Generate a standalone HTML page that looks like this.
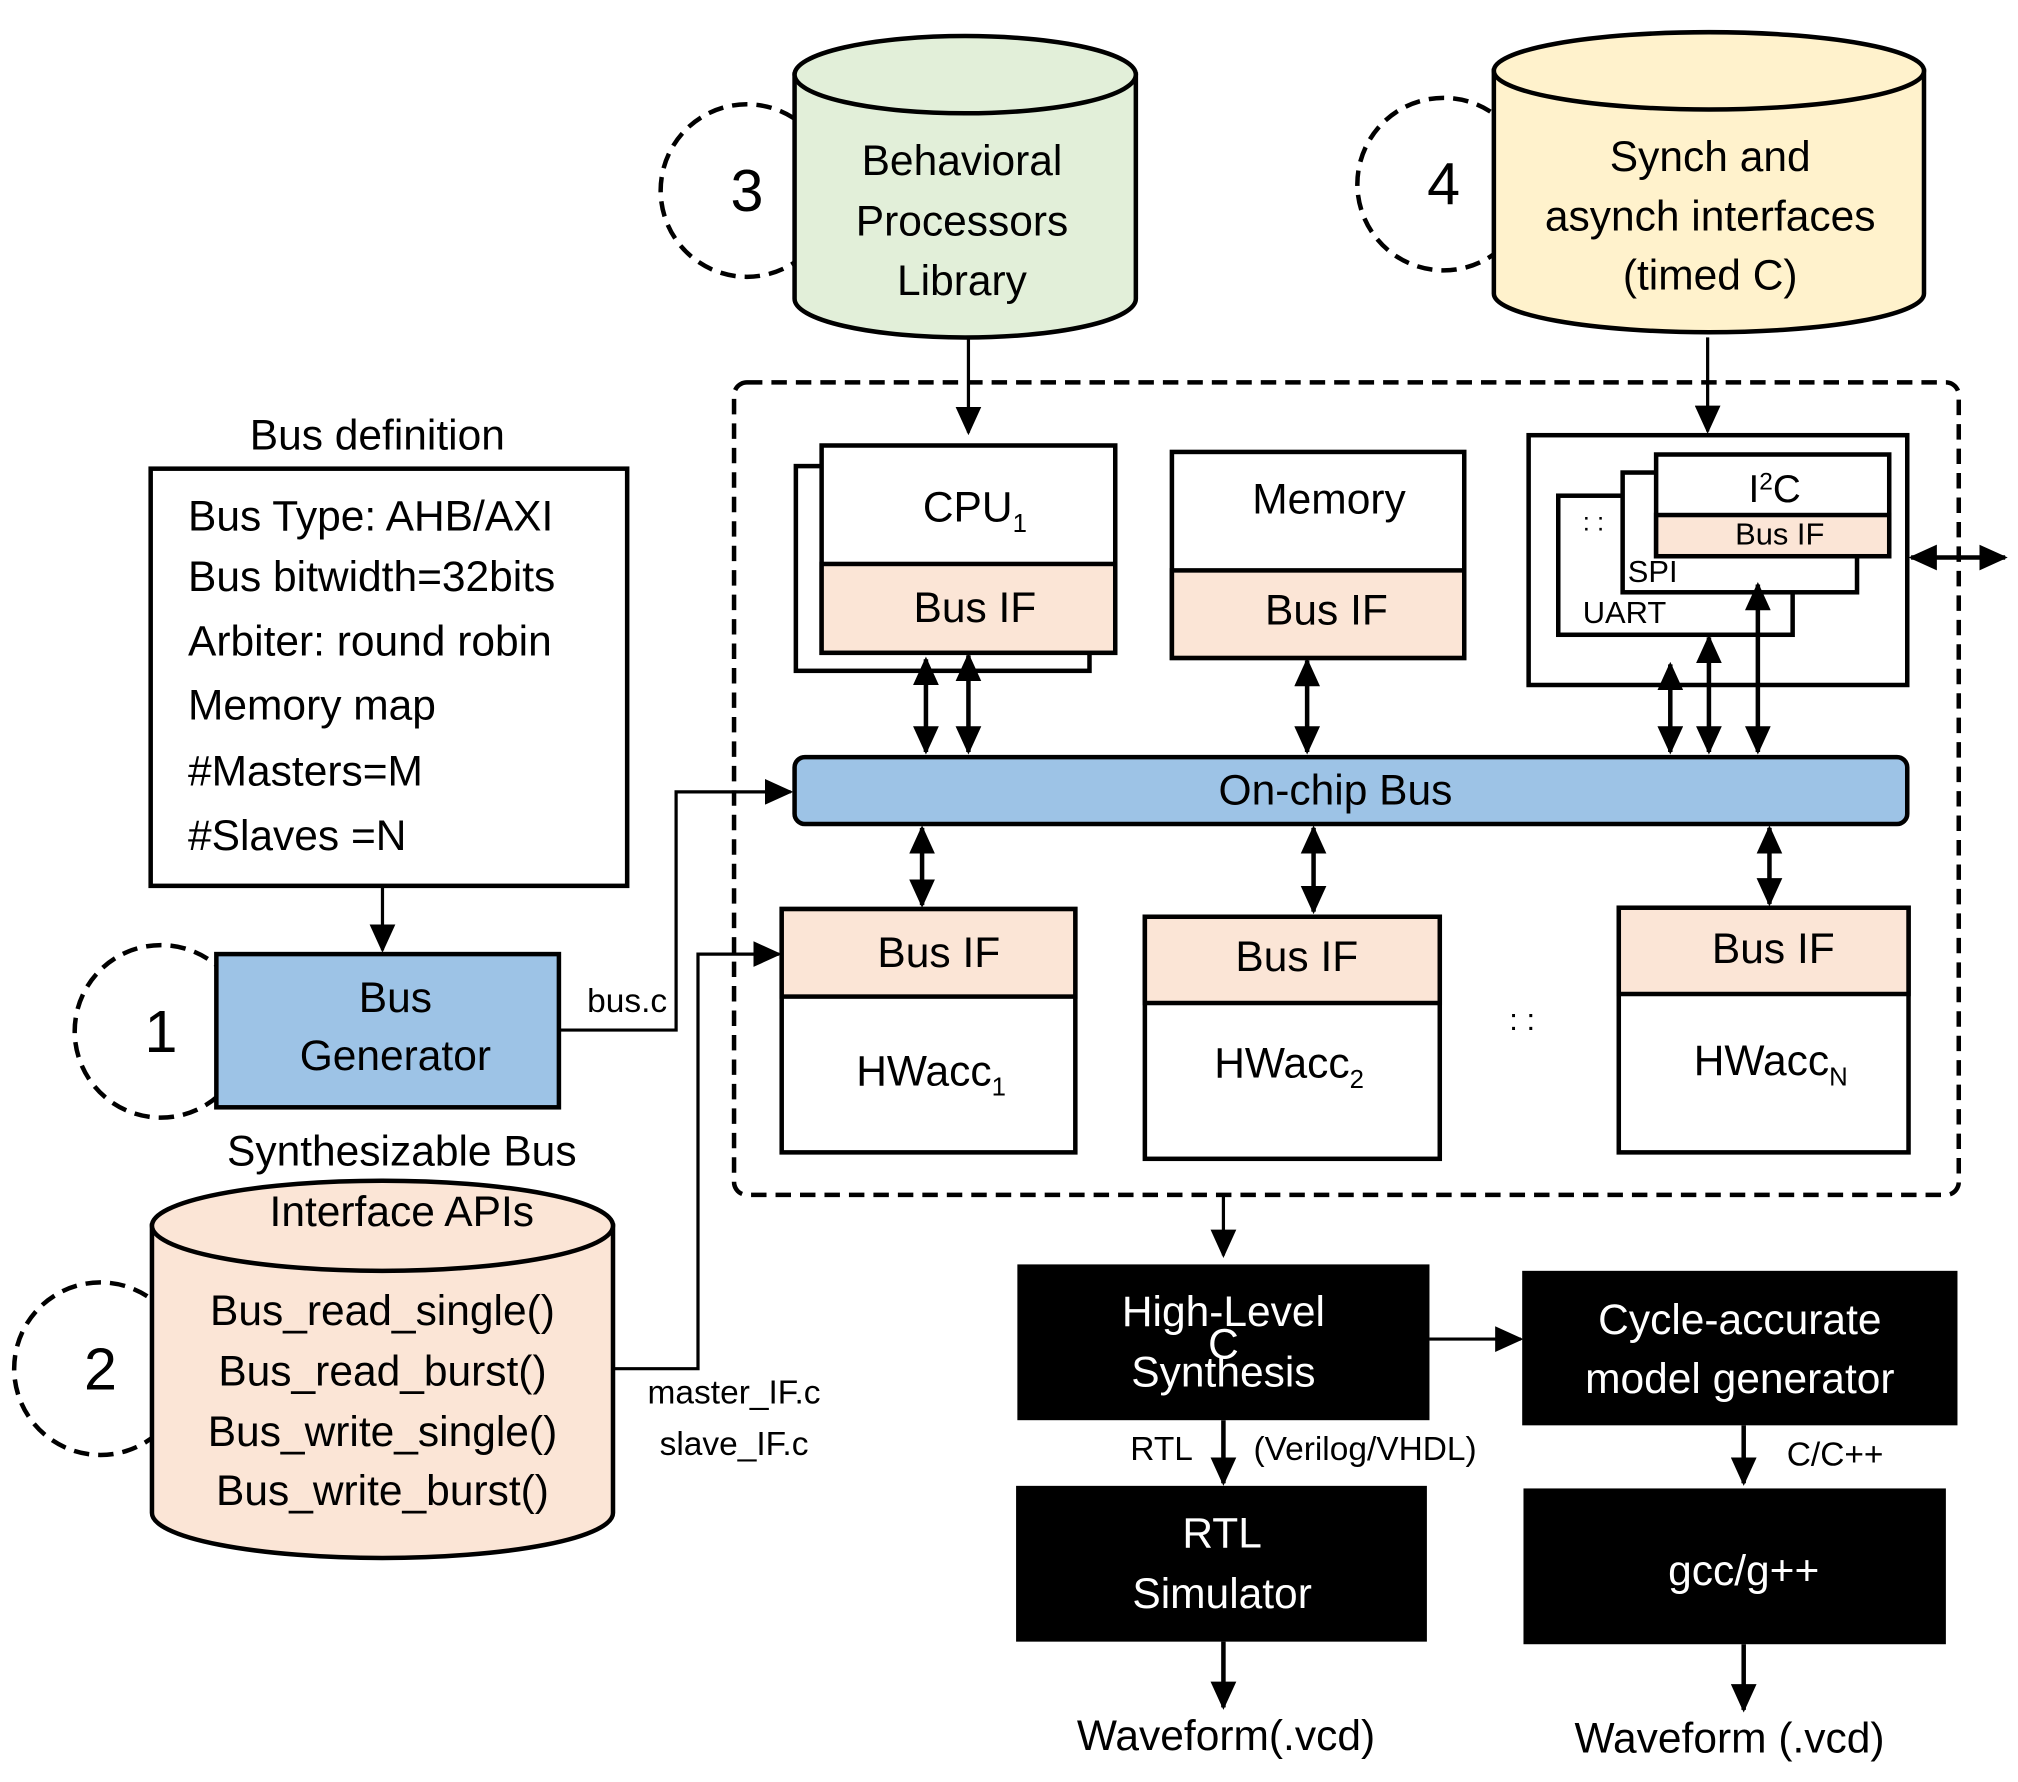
<!DOCTYPE html>
<html><head><meta charset="utf-8"><style>
html,body{margin:0;padding:0;background:#fff}
svg{display:block}
text{font-family:"Liberation Sans",sans-serif;font-size:33px;fill:#000}
.c{text-anchor:middle}
.w{fill:#fff}
.s{font-size:26px}
</style></head><body>
<svg width="2018" height="1782" viewBox="0 0 1567 1384" preserveAspectRatio="none" xmlns="http://www.w3.org/2000/svg">
<defs>
<marker id="a" markerUnits="userSpaceOnUse" markerWidth="22" markerHeight="20" refX="20" refY="10" orient="auto-start-reverse"><path d="M0,0 L22,10 L0,20 Z" fill="#000"/></marker>
</defs>
<g fill="none" stroke="#000" stroke-width="3.5">
<circle cx="580" cy="148" r="67" stroke-dasharray="12,7"/>
<circle cx="1121" cy="143" r="67" stroke-dasharray="12,7"/>
<circle cx="78" cy="1063" r="67" stroke-dasharray="12,7"/>
<circle cx="125" cy="801" r="67" stroke-dasharray="12,7"/>
</g>
<g stroke="#000" stroke-width="3.5">
<path d="M617,58 L617,232 A132,30 0 0 0 882,232 L882,58 Z" fill="#e2efd9"/>
<ellipse cx="749.5" cy="58" rx="132.5" ry="30" fill="#e2efd9"/>
<path d="M1160,55 L1160,228 A167,30 0 0 0 1494,228 L1494,55 Z" fill="#fff2cc"/>
<ellipse cx="1327" cy="55" rx="167" ry="30" fill="#fff2cc"/>
<path d="M118,952 L118,1175 A179,35 0 0 0 476,1175 L476,952 Z" fill="#fbe5d6"/>
<ellipse cx="297" cy="952" rx="179" ry="35" fill="#fbe5d6"/>
</g>
<text class="c" x="747" y="136">Behavioral</text>
<text class="c" x="747" y="183">Processors</text>
<text class="c" x="747" y="229">Library</text>
<text class="c" x="1328" y="133">Synch and</text>
<text class="c" x="1328" y="179">asynch interfaces</text>
<text class="c" x="1328" y="225">(timed C)</text>
<text class="c" x="580" y="164" style="font-size:46px">3</text>
<text class="c" x="1121" y="159" style="font-size:46px">4</text>
<text class="c" x="78" y="1079" style="font-size:46px">2</text>
<text class="c" x="125" y="817" style="font-size:46px">1</text>
<text class="c" x="312" y="905">Synthesizable Bus</text>
<text class="c" x="312" y="952">Interface APIs</text>
<text class="c" x="297" y="1029">Bus_read_single()</text>
<text class="c" x="297" y="1076">Bus_read_burst()</text>
<text class="c" x="297" y="1123">Bus_write_single()</text>
<text class="c" x="297" y="1169">Bus_write_burst()</text>

<text class="c" x="293" y="349">Bus definition</text>
<rect x="117" y="364" width="370" height="324" fill="#fff" stroke="#000" stroke-width="3.5"/>
<text x="146" y="412">Bus Type: AHB/AXI</text>
<text x="146" y="459">Bus bitwidth=32bits</text>
<text x="146" y="509">Arbiter: round robin</text>
<text x="146" y="559">Memory map</text>
<text x="146" y="610">#Masters=M</text>
<text x="146" y="660">#Slaves =N</text>
<rect x="168" y="741" width="266" height="119" fill="#9dc3e6" stroke="#000" stroke-width="3.5"/>
<text class="c" x="307" y="786">Bus</text>
<text class="c" x="307" y="831">Generator</text>
<text class="c s" x="487" y="786">bus.c</text>
<text class="c s" x="570" y="1090">master_IF.c</text>
<text class="c s" x="570" y="1130">slave_IF.c</text>

<g fill="none" stroke="#000" stroke-width="2.5">
<line x1="297" y1="688" x2="297" y2="738" marker-end="url(#a)"/>
<polyline points="434,800 525,800 525,615 614,615" marker-end="url(#a)"/>
<polyline points="476,1063 542,1063 542,741 605,741" marker-end="url(#a)"/>
<line x1="752" y1="262" x2="752" y2="336" marker-end="url(#a)"/>
<line x1="1326" y1="262" x2="1326" y2="335" marker-end="url(#a)"/>
</g>

<rect x="570" y="297" width="951" height="631" rx="10" fill="none" stroke="#000" stroke-width="3.5" stroke-dasharray="12,7"/>

<g stroke="#000" stroke-width="3.5">
<rect x="618" y="362" width="228" height="159" fill="#fff"/>
<rect x="638" y="346" width="228" height="161" fill="#fff"/>
<rect x="638" y="438" width="228" height="69" fill="#fbe5d6"/>
<rect x="910" y="351" width="227" height="160" fill="#fff"/>
<rect x="910" y="443" width="227" height="68" fill="#fbe5d6"/>
<rect x="1187" y="338" width="294" height="194" fill="#fff"/>
<rect x="1210" y="385" width="182" height="108" fill="#fff"/>
<rect x="1260" y="367" width="182" height="93" fill="#fff"/>
<rect x="1286" y="353" width="181" height="79" fill="#fff"/>
<rect x="1286" y="400" width="181" height="32" fill="#fbe5d6"/>
<rect x="617" y="588" width="864" height="52" rx="8" fill="#9dc3e6"/>
<rect x="607" y="706" width="228" height="189" fill="#fff"/>
<rect x="607" y="706" width="228" height="68" fill="#fbe5d6"/>
<rect x="889" y="712" width="229" height="188" fill="#fff"/>
<rect x="889" y="712" width="229" height="67" fill="#fbe5d6"/>
<rect x="1257" y="705" width="225" height="190" fill="#fff"/>
<rect x="1257" y="705" width="225" height="67" fill="#fbe5d6"/>
</g>
<text class="c" x="757" y="405">CPU<tspan style="font-size:20px" dy="8">1</tspan></text>
<text class="c" x="757" y="483">Bus IF</text>
<text class="c" x="1032" y="399">Memory</text>
<text class="c" x="1030" y="485">Bus IF</text>
<text class="c" x="1378" y="390" style="font-size:30px">I<tspan style="font-size:19px" dy="-10">2</tspan><tspan dy="10">C</tspan></text>
<text class="c" x="1382" y="423" style="font-size:24px">Bus IF</text>
<text x="1264" y="452" style="font-size:24px">SPI</text>
<text x="1229" y="484" style="font-size:24px">UART</text>
<text x="1229" y="412" style="font-size:20px">: :</text>
<text class="c" x="1037" y="625">On-chip Bus</text>
<text class="c" x="729" y="751">Bus IF</text>
<text class="c" x="723" y="843">HWacc<tspan style="font-size:20px" dy="8">1</tspan></text>
<text class="c" x="1007" y="754">Bus IF</text>
<text class="c" x="1001" y="837">HWacc<tspan style="font-size:20px" dy="8">2</tspan></text>
<text class="c" x="1377" y="748">Bus IF</text>
<text class="c" x="1375" y="835">HWacc<tspan style="font-size:20px" dy="8">N</tspan></text>
<text class="c" x="1182" y="800" style="font-size:24px">:  :</text>

<g fill="none" stroke="#000" stroke-width="3.5">
<line x1="719" y1="512" x2="719" y2="584" marker-start="url(#a)" marker-end="url(#a)"/>
<line x1="752" y1="509" x2="752" y2="584" marker-start="url(#a)" marker-end="url(#a)"/>
<line x1="1015" y1="513" x2="1015" y2="584" marker-start="url(#a)" marker-end="url(#a)"/>
<line x1="1297" y1="516" x2="1297" y2="584" marker-start="url(#a)" marker-end="url(#a)"/>
<line x1="1327" y1="495" x2="1327" y2="584" marker-start="url(#a)" marker-end="url(#a)"/>
<line x1="1365" y1="454" x2="1365" y2="584" marker-start="url(#a)" marker-end="url(#a)"/>
<line x1="716" y1="643" x2="716" y2="703" marker-start="url(#a)" marker-end="url(#a)"/>
<line x1="1020" y1="643" x2="1020" y2="708" marker-start="url(#a)" marker-end="url(#a)"/>
<line x1="1374" y1="643" x2="1374" y2="702" marker-start="url(#a)" marker-end="url(#a)"/>
<line x1="1484" y1="433" x2="1557" y2="433" marker-start="url(#a)" marker-end="url(#a)"/>
<line x1="950" y1="928" x2="950" y2="975" stroke-width="2.5" marker-end="url(#a)"/>
<line x1="1110" y1="1040" x2="1181" y2="1040" stroke-width="2.5" marker-end="url(#a)"/>
<line x1="950" y1="1103" x2="950" y2="1152" marker-end="url(#a)"/>
<line x1="1354" y1="1107" x2="1354" y2="1152" marker-end="url(#a)"/>
<line x1="950" y1="1275" x2="950" y2="1326" marker-end="url(#a)"/>
<line x1="1354" y1="1277" x2="1354" y2="1328" marker-end="url(#a)"/>
</g>

<rect x="790" y="982" width="320" height="121" fill="#000"/>
<rect x="1182" y="987" width="338" height="120" fill="#000"/>
<rect x="789" y="1154" width="319" height="121" fill="#000"/>
<rect x="1183" y="1156" width="328" height="121" fill="#000"/>
<text class="c w" x="950" y="1030">High-Level</text>
<text class="c w" x="950" y="1055">C</text>
<text class="c w" x="950" y="1077">Synthesis</text>
<text class="c w" x="1351" y="1036">Cycle-accurate</text>
<text class="c w" x="1351" y="1082">model generator</text>
<text class="c w" x="949" y="1202">RTL</text>
<text class="c w" x="949" y="1249">Simulator</text>
<text class="c w" x="1354" y="1231">gcc/g++</text>
<text class="c s" x="902" y="1134">RTL</text>
<text class="c s" x="1060" y="1134">(Verilog/VHDL)</text>
<text class="c s" x="1425" y="1138">C/C++</text>
<text class="c" x="952" y="1359">Waveform(.vcd)</text>
<text class="c" x="1343" y="1361">Waveform (.vcd)</text>
</svg>
</body></html>
